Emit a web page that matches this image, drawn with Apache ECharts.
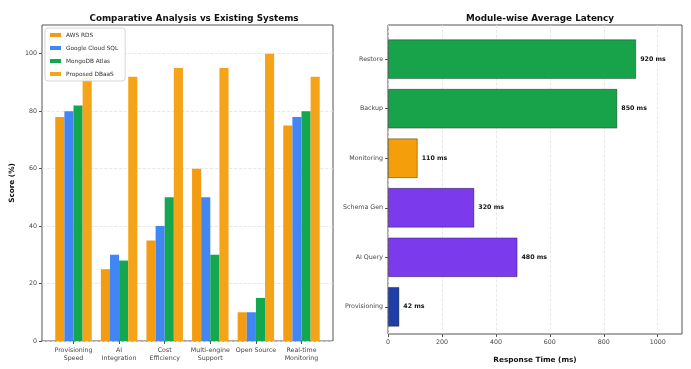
<!DOCTYPE html>
<html>
<head>
<meta charset="utf-8">
<script src="https://cdn.jsdelivr.net/npm/echarts@6/dist/echarts.min.js"></script>
<style>
  html, body { margin: 0; padding: 0; background: #fff; }
  #chart { width: 691px; height: 369px; }
</style>
</head>
<body>
<div id="chart"></div>
<script>
// Feature comparison (scores in %)
const features = ['Provisioning\nSpeed', 'AI\nIntegration', 'Cost\nEfficiency', 'Multi-engine\nSupport', 'Open Source', 'Real-time\nMonitoring'];
const awsRds = [78, 25, 35, 60, 10, 75];
const googleCloudSql = [80, 30, 40, 50, 10, 78];
const mongoAtlas = [82, 28, 50, 30, 15, 80];
const proposed = [92, 92, 95, 95, 100, 92];
const scoreTicks = [0, 20, 40, 60, 80, 100];

// Module latency (ms), listed bottom to top
const modules = ['Provisioning', 'AI Query', 'Schema Gen', 'Monitoring', 'Backup', 'Restore'];
const latency = [42, 480, 320, 110, 850, 920];
const latencyColors = ['#1e3fa8', '#7c3aed', '#7c3aed', '#f59e0b', '#18a24a', '#18a24a'];
const latencyTicks = [0, 200, 400, 600, 800, 1000];

const FONT = 'DejaVu Sans';
const tickText = { fontFamily: FONT, fontSize: 6.3, color: '#444' };
const frameColor = '#555';
const gridLine = { show: true, lineStyle: { color: '#e2e2e2', type: 'dashed', width: 0.8 } };

const chart = echarts.init(document.getElementById('chart'), null, { renderer: 'canvas' });

const barBase = (name, data, color, xi) => ({
  name, type: 'bar', data,
  xAxisIndex: xi, yAxisIndex: xi,
  itemStyle: { color },
  barGap: '0%', barCategoryGap: '20%',
  emphasis: { disabled: true }
});

chart.setOption({
  animation: false,
  title: [
    { text: 'Comparative Analysis vs Existing Systems', left: 189, top: 9, textAlign: 'center',
      textStyle: { fontFamily: FONT, fontSize: 8.8, fontWeight: 'bold', color: '#111' } },
    { text: 'Module-wise Average Latency', left: 535, top: 9, textAlign: 'center',
      textStyle: { fontFamily: FONT, fontSize: 8.8, fontWeight: 'bold', color: '#111' } }
  ],
  legend: {
    left: 45, top: 28, orient: 'vertical',
    itemWidth: 11, itemHeight: 4, itemGap: 7,
    icon: 'rect',
    backgroundColor: 'rgba(255,255,255,0.9)',
    borderColor: '#ccc', borderWidth: 0.8, borderRadius: 3,
    padding: [4, 7, 4, 5],
    textStyle: { fontFamily: FONT, fontSize: 5.8, color: '#333' },
    data: ['AWS RDS', 'Google Cloud SQL', 'MongoDB Atlas', 'Proposed DBaaS']
  },
  grid: [
    { left: 42, top: 25, width: 291, height: 316, show: true, borderColor: frameColor, borderWidth: 1, containLabel: false },
    { left: 50.7, top: 25, width: 273.6, height: 316, containLabel: false },
    { left: 388, top: 25, width: 294, height: 316, show: true, borderColor: frameColor, borderWidth: 1, containLabel: false },
    { left: 388, top: 34.4, width: 294, height: 297.2, containLabel: false }
  ],
  xAxis: [
    { gridIndex: 0, type: 'value', min: 0, max: 1, show: false },
    { gridIndex: 1, type: 'category', data: features,
      axisLine: { show: false },
      axisTick: { show: true, alignWithLabel: true, length: 3, lineStyle: { color: frameColor } },
      axisLabel: { ...tickText, interval: 0, margin: 5, lineHeight: 8 } },
    { gridIndex: 2, type: 'value', min: 0, max: 1090,
      axisLine: { show: false },
      axisTick: { show: true, length: 3, customValues: latencyTicks, lineStyle: { color: frameColor } },
      axisLabel: { ...tickText, margin: 5, customValues: latencyTicks, formatter: v => String(v) },
      splitLine: gridLine,
      name: 'Response Time (ms)', nameLocation: 'middle', nameGap: 23,
      nameTextStyle: { fontFamily: FONT, fontSize: 7.3, fontWeight: 'bold', color: '#111' } },
    { gridIndex: 3, type: 'value', min: 0, max: 1090, show: false }
  ],
  yAxis: [
    { gridIndex: 0, type: 'value', min: 0, max: 110,
      axisLine: { show: false },
      axisTick: { show: true, length: 3, customValues: scoreTicks, lineStyle: { color: frameColor } },
      axisLabel: { ...tickText, margin: 5, customValues: scoreTicks },
      splitLine: gridLine,
      name: 'Score (%)', nameLocation: 'middle', nameGap: 26, nameRotate: 90,
      nameTextStyle: { fontFamily: FONT, fontSize: 7.3, fontWeight: 'bold', color: '#111' } },
    { gridIndex: 1, type: 'value', min: 0, max: 110, show: false },
    { gridIndex: 2, type: 'value', min: 0, max: 1, show: false },
    { gridIndex: 3, type: 'category', data: modules,
      axisLine: { show: false },
      axisTick: { show: true, alignWithLabel: true, length: 3, lineStyle: { color: frameColor } },
      axisLabel: { ...tickText, margin: 5 } }
  ],
  series: [
    barBase('AWS RDS', awsRds, '#f39c12', 1),
    barBase('Google Cloud SQL', googleCloudSql, '#4285f4', 1),
    barBase('MongoDB Atlas', mongoAtlas, '#13a84f', 1),
    barBase('Proposed DBaaS', proposed, '#f5a41a', 1),
    {
      name: 'Latency', type: 'bar', xAxisIndex: 3, yAxisIndex: 3,
      data: latency.map((v, i) => ({ value: v, itemStyle: { color: latencyColors[i] } })),
      barCategoryGap: '20%',
      itemStyle: { borderColor: 'rgba(0,0,0,0.45)', borderWidth: 0.8 },
      label: { show: true, position: 'right', distance: 4,
        formatter: p => p.value + ' ms',
        fontFamily: FONT, fontSize: 6.3, fontWeight: 'bold', color: '#111' },
      emphasis: { disabled: true }
    }
  ]
});
</script>
</body>
</html>
